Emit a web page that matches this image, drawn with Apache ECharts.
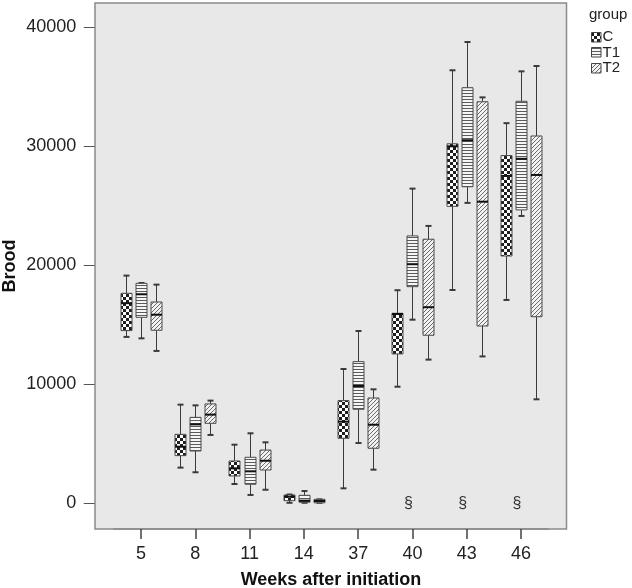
<!DOCTYPE html>
<html><head><meta charset="utf-8">
<script src="https://cdn.jsdelivr.net/npm/echarts@6/dist/echarts.min.js"></script>
<style>html,body{margin:0;padding:0;background:#fff}#c{width:632px;height:588px}</style>
</head><body><div id="c"></div>
<script>
// ---- data ----
const categories = ['5', '8', '11', '14', '37', '40', '43', '46'];
const groups = ['C', 'T1', 'T2'];
// [min, Q1, median, Q3, max] per week
const boxC = [
  [13960, 14490, 16800, 17630, 19120],
  [2960, 3970, 4720, 5760, 8260],
  [1580, 2260, 2900, 3520, 4890],
  [0, 180, 510, 660, 700],
  [1220, 5430, 6830, 8600, 11260],
  [9770, 12530, 15890, 15950, 17890],
  [17910, 24950, 30000, 30210, 36400],
  [17070, 20770, 27510, 29220, 31950]
];
const boxT1 = [
  [13840, 15610, 17550, 18470, 18500],
  [2570, 4360, 6600, 7190, 8200],
  [660, 1560, 2650, 3830, 5850],
  [0, 50, 180, 630, 990],
  [5030, 7870, 9830, 11880, 14460],
  [15410, 18190, 20080, 22460, 26440],
  [25240, 26600, 30510, 34930, 38780],
  [24140, 24650, 28950, 33790, 36310]
];
const boxT2 = [
  [12780, 14520, 15830, 16900, 18360],
  [5710, 6690, 7420, 8320, 8600],
  [1100, 2760, 3540, 4440, 5090],
  [0, 0, 150, 290, 290],
  [2790, 4590, 6570, 8820, 9550],
  [12050, 14100, 16460, 22180, 23300],
  [12320, 14880, 25340, 33750, 34120],
  [8710, 15660, 27590, 30870, 36760]
];
// [week index, group index, value, kind 0=circle 1=star]
const outliers = [
  [0, 2, 10000, 0],
  [1, 2, 10670, 0],
  [1, 2, 2540, 0],
  [2, 0, 40, 0],
  [3, 0, 1500, 0],
  [3, 0, 2090, 1],
  [3, 2, 1250, 1],
  [5, 0, 4390, 0]
];
const sectionMarks = [5, 6, 7];
const yTicks = [0, 10000, 20000, 30000, 40000];
const yMin = -2205, yMax = 42087;

// ---- patterns ----
function makeCanvas(w, h) { const c = document.createElement('canvas'); c.width = w; c.height = h; return c; }
function checker() {
  const c = makeCanvas(6, 6), x = c.getContext('2d');
  x.fillStyle = '#ffffff'; x.fillRect(0, 0, 6, 6);
  x.fillStyle = '#1e1e1e'; x.fillRect(0, 0, 3, 3); x.fillRect(3, 3, 3, 3);
  return { image: c, repeat: 'repeat' };
}
function hstripes() {
  const c = makeCanvas(3, 3), x = c.getContext('2d');
  x.fillStyle = '#f6f6f6'; x.fillRect(0, 0, 3, 3);
  x.fillStyle = '#5a5a5a'; x.fillRect(0, 0, 3, 1);
  return { image: c, repeat: 'repeat' };
}
function diag() {
  const c = makeCanvas(4, 4), x = c.getContext('2d');
  x.fillStyle = '#f2f2f2'; x.fillRect(0, 0, 4, 4);
  x.fillStyle = '#6a6a6a';
  for (let i = 0; i < 4; i++) x.fillRect(i, 3 - i, 1, 1);
  return { image: c, repeat: 'repeat' };
}
const patterns = [checker(), hstripes(), diag()];
const boxes = [boxC, boxT1, boxT2];

function slot(api, ci, gi) {
  const bw = api.size([1, 0])[0];
  const avail = bw * 0.8 - 2, gap = avail / 3 * 0.3, w = (avail - 2 * gap) / 3;
  const cx = api.coord([ci, 0])[0] + w / 2 - avail / 2 + gi * (gap + w);
  return { cx: Math.round(cx) + 0.5, w: w };
}

function boxRender(gi) {
  return function (params, api) {
    const ci = api.value(0);
    const s = slot(api, ci, gi);
    const y = [1, 2, 3, 4, 5].map(k => api.coord([ci, api.value(k)])[1]);
    const cx = s.cx, w = Math.round(s.w), cap = 6;
    const lx = cx - w / 2;
    const ls = { stroke: '#3a3a3a', lineWidth: 1 };
    return {
      type: 'group',
      children: [
        { type: 'line', shape: { x1: cx, y1: y[4], x2: cx, y2: y[3] }, style: ls },
        { type: 'line', shape: { x1: cx, y1: y[1], x2: cx, y2: y[0] }, style: ls },
        { type: 'line', shape: { x1: cx - cap / 2, y1: y[4], x2: cx + cap / 2, y2: y[4] }, style: { stroke: '#3a3a3a', lineWidth: 2 } },
        { type: 'line', shape: { x1: cx - cap / 2, y1: y[0], x2: cx + cap / 2, y2: y[0] }, style: { stroke: '#3a3a3a', lineWidth: 2 } },
        { type: 'rect', shape: { x: lx, y: y[3], width: w, height: Math.max(y[1] - y[3], 1) },
          style: { fill: patterns[gi], stroke: '#4a4a4a', lineWidth: 1 } },
        { type: 'line', shape: { x1: lx, y1: y[2], x2: lx + w, y2: y[2] }, style: { stroke: '#111', lineWidth: 2 } }
      ]
    };
  };
}

function outlierRender(params, api) {
  const ci = api.value(0), v = api.value(1), gi = api.value(2), kind = api.value(3);
  const s = slot(api, ci, gi);
  const y = api.coord([ci, v])[1];
  if (kind === 0) {
    return { type: 'circle', shape: { cx: s.cx, cy: y, r: 2.3 }, style: { fill: 'none', stroke: '#444', lineWidth: 1 } };
  }
  const r = 2.6, ch = [];
  for (let k = 0; k < 3; k++) {
    const a = Math.PI / 2 + k * Math.PI / 3;
    ch.push({ type: 'line', shape: { x1: s.cx - r * Math.cos(a), y1: y - r * Math.sin(a), x2: s.cx + r * Math.cos(a), y2: y + r * Math.sin(a) }, style: { stroke: '#444', lineWidth: 1 } });
  }
  return { type: 'group', children: ch };
}

function sectionRender(params, api) {
  const ci = api.value(0);
  const p = api.coord([ci, api.value(1)]);
  return { type: 'text', x: p[0] - 4, y: p[1] + 1, style: { text: '§', fill: '#333', fontSize: 16, fontFamily: 'Liberation Sans, Arial, sans-serif', align: 'center', verticalAlign: 'middle' } };
}

const series = groups.map((g, gi) => ({
  name: g, type: 'custom', renderItem: boxRender(gi),
  encode: { x: 0, y: [1, 2, 3, 4, 5] },
  data: categories.map((c, i) => [i].concat(boxes[gi][i])),
  z: 3
}));
series.push({ name: 'outliers', type: 'custom', renderItem: outlierRender, encode: { x: 0, y: 1 }, data: outliers, z: 4 });
series.push({ name: 'section', type: 'custom', renderItem: sectionRender, encode: { x: 0, y: 1 }, data: sectionMarks.map(i => [i, 0]), z: 4 });

const FONT = 'Liberation Sans, Arial, sans-serif';
const legendEls = [{ type: 'text', x: 589, y: 7, style: { text: 'group', font: '15px ' + FONT, fill: '#222' } }];
groups.forEach((g, gi) => {
  const yc = 36.7 + gi * 15.7;
  legendEls.push({ type: 'rect', shape: { x: 591.5, y: Math.round(yc - 5) + 0.5, width: 9.5, height: 9.5 }, style: { fill: patterns[gi], stroke: '#444', lineWidth: 1 } });
  legendEls.push({ type: 'text', x: 602.5, y: yc, style: { text: g, font: '15px ' + FONT, fill: '#222', verticalAlign: 'middle', align: 'left' } });
});

const chart = echarts.init(document.getElementById('c'), null, { renderer: 'canvas' });
chart.setOption({
  animation: false,
  backgroundColor: '#ffffff',
  textStyle: { fontFamily: FONT },
  grid: { left: 113.9, right: 83.9, top: 2.7, bottom: 59 },
  xAxis: {
    type: 'category', data: categories,
    axisLine: { show: true, onZero: false, lineStyle: { color: '#8a8a8a', width: 1.5 } },
    axisTick: { show: true, alignWithLabel: true, length: 10, lineStyle: { color: '#444', width: 1.5 } },
    axisLabel: { margin: 16, fontSize: 18, color: '#222', fontFamily: FONT },
    splitLine: { show: false }
  },
  yAxis: {
    type: 'value', min: yMin, max: yMax, offset: 19.2,
    axisLine: { show: false, onZero: false },
    axisTick: { show: true, length: 11, customValues: yTicks, lineStyle: { color: '#555' } },
    axisLabel: { margin: 18.5, fontSize: 18, color: '#222', fontFamily: FONT, customValues: yTicks, formatter: v => String(v) },
    splitLine: { show: false }
  },
  graphic: [
    { type: 'rect', z: -10, silent: true, shape: { x: 95, y: 3, width: 471.5, height: 526 }, style: { fill: '#e8e8e8', stroke: '#8a8a8a', lineWidth: 1.5 } },
    { type: 'text', x: 10, y: 266, rotation: Math.PI / 2, style: { text: 'Brood', font: 'bold 18px ' + FONT, fill: '#111', align: 'center', verticalAlign: 'middle' } },
    { type: 'text', x: 331, y: 580, style: { text: 'Weeks after initiation', font: 'bold 18px ' + FONT, fill: '#111', align: 'center', verticalAlign: 'middle' } }
  ].concat(legendEls),
  series: series
});
</script></body></html>
